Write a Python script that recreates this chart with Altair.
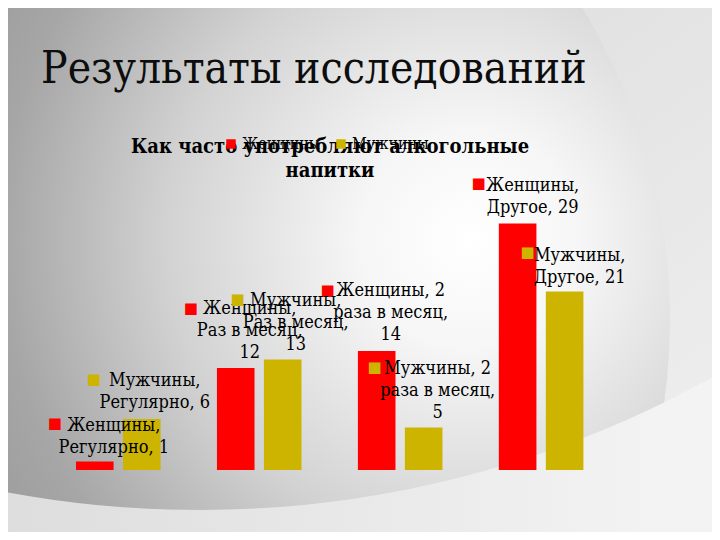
import altair as alt
import pandas as pd

# ---- data ----
categories = ["Регулярно", "Раз в месяц", "2 раза в месяц", "Другое"]
series_names = ["Женщины", "Мужчины"]
women = [1, 12, 14, 29]
men = [6, 13, 5, 21]
title_text = "Результаты исследований"
chart_title_lines = ["Как часто употребляют алкогольные", "напитки"]

# ---- styles / layout ----
colors = ["#FF0000", "#CDB400"]
FONT = "DejaVu Serif Condensed, DejaVu Serif, serif"
W, H = 704, 524

# label offsets (text dx, dy, marker dx, dy) relative to bar top-centre
text_off = {
    ("Женщины", "Регулярно"): (19, -30.5), ("Женщины", "Раз в месяц"): (14, -54),
    ("Женщины", "2 раза в месяц"): (14, -55), ("Женщины", "Другое"): (15, -32.5),
    ("Мужчины", "Регулярно"): (13, -33), ("Мужчины", "Раз в месяц"): (13, -53.5),
    ("Мужчины", "2 раза в месяц"): (14, -53.5), ("Мужчины", "Другое"): (15, -30.5),
}
marker_off = {
    ("Женщины", "Регулярно"): (-40, -38.5), ("Женщины", "Раз в месяц"): (-45, -60),
    ("Женщины", "2 раза в месяц"): (-49, -61), ("Женщины", "Другое"): (-39, -40.5),
    ("Мужчины", "Регулярно"): (-48, -40), ("Мужчины", "Раз в месяц"): (-45, -60.5),
    ("Мужчины", "2 раза в месяц"): (-49, -60.5), ("Мужчины", "Другое"): (-37, -39.5),
}


def label_text(s, c, v):
    if c == "Раз в месяц":
        return f"{s},\n{c},\n{v}"
    if c == "2 раза в месяц":
        first, rest = c.split(" ", 1)
        return f"{s}, {first}\n{rest},\n{v}"
    return f"{s},\n{c}, {v}"


rows = []
for s, vals in zip(series_names, [women, men]):
    for c, v in zip(categories, vals):
        rows.append({"series": s, "category": c, "value": v, "label": label_text(s, c, v)})
df = pd.DataFrame(rows)
one = pd.DataFrame({"d": [0]})

x_enc = alt.X("category:N", sort=categories, axis=None,
              scale=alt.Scale(domain=categories, range=[39.8, 603.6], paddingInner=0, paddingOuter=0))
xo_enc = alt.XOffset("series:N", sort=series_names,
                     scale=alt.Scale(domain=series_names, paddingInner=0.2, paddingOuter=0.6))
y_enc = alt.Y("value:Q", axis=None,
              scale=alt.Scale(domain=[0, 29], range=[462, 215.5], nice=False, zero=True))

# ---- background ----
base_bg = alt.Chart(one).mark_rect(color={
    "gradient": "linear", "x1": 0, "y1": 0, "x2": 1, "y2": 1,
    "stops": [{"offset": 0, "color": "#d8d8d8"}, {"offset": 1, "color": "#f0f0f0"}]
}).encode(x=alt.value(0), x2=alt.value(W), y=alt.value(0), y2=alt.value(H))

sphere = alt.Chart(one).mark_arc(theta=0, theta2=6.2832, radius=600, radius2=0, color={
    "gradient": "radial", "x1": 0.833, "y1": 0.433, "r1": 0,
    "x2": 0.833, "y2": 0.433, "r2": 0.46,
    "stops": [{"offset": 0, "color": "#ffffff"}, {"offset": 0.2, "color": "#f6f6f6"},
              {"offset": 0.55, "color": "#d2d2d2"}, {"offset": 0.85, "color": "#a6a6a6"},
              {"offset": 1, "color": "#9c9c9c"}]
}).encode(x=alt.value(62), y=alt.value(312))

ring = alt.Chart(one).mark_arc(theta=0, theta2=6.2832, radius=2300, radius2=1055, color={
    "gradient": "linear", "x1": 0.45, "y1": 0, "x2": 0.6, "y2": 0,
    "stops": [{"offset": 0, "color": "#dcdcdc"}, {"offset": 1, "color": "#f3f3f3"}]
}).encode(x=alt.value(192), y=alt.value(-553))

# ---- titles ----
title = alt.Chart(one).mark_text(text=title_text, font=FONT, fontSize=44, align="left",
                                 baseline="alphabetic", color="#0d0d0d").encode(
    x=alt.value(33), y=alt.value(75))
subtitle = alt.Chart(one).mark_text(text=chart_title_lines, font=FONT, fontSize=20, fontWeight="bold",
                                    align="center", baseline="alphabetic", lineHeight=24,
                                    color="#000000").encode(x=alt.value(322), y=alt.value(145))

# ---- bars ----
bars = alt.Chart(df).mark_bar().encode(
    x=x_enc, xOffset=xo_enc, y=y_enc,
    color=alt.Color("series:N", scale=alt.Scale(domain=series_names, range=colors),
                    legend=alt.Legend(title=None, orient="none", legendX=215, legendY=128,
                                      direction="horizontal", symbolType="square", symbolSize=90,
                                      symbolStrokeWidth=0, labelFont=FONT, labelFontSize=16,
                                      labelColor="#000000", columnPadding=12, labelOffset=3,
                                      padding=0)))

layers = [base_bg, sphere, ring, title, bars, subtitle]
for s, col in zip(series_names, colors):
    for c in categories:
        tdx, tdy = text_off[(s, c)]
        mdx, mdy = marker_off[(s, c)]
        sub = alt.Chart(df).transform_filter(
            (alt.datum.series == s) & (alt.datum.category == c))
        layers.append(sub.mark_text(text="■", font="DejaVu Sans", fontSize=15, align="center",
                                    baseline="middle", color=col, dx=mdx, dy=mdy).encode(
            x=x_enc, xOffset=xo_enc, y=y_enc))
        layers.append(sub.mark_text(font=FONT, fontSize=18, align="center", baseline="alphabetic",
                                    lineBreak="\n", lineHeight=22, color="#000000",
                                    dx=tdx, dy=tdy).encode(
            x=x_enc, xOffset=xo_enc, y=y_enc, text="label:N"))

chart = alt.layer(*layers).properties(
    width=W, height=H, padding=0, autosize=alt.AutoSizeParams(type="none"),
    background="#e4e4e4"
).configure_view(strokeWidth=0)

chart.save("out.html", embed_options={"renderer": "svg", "actions": False})
